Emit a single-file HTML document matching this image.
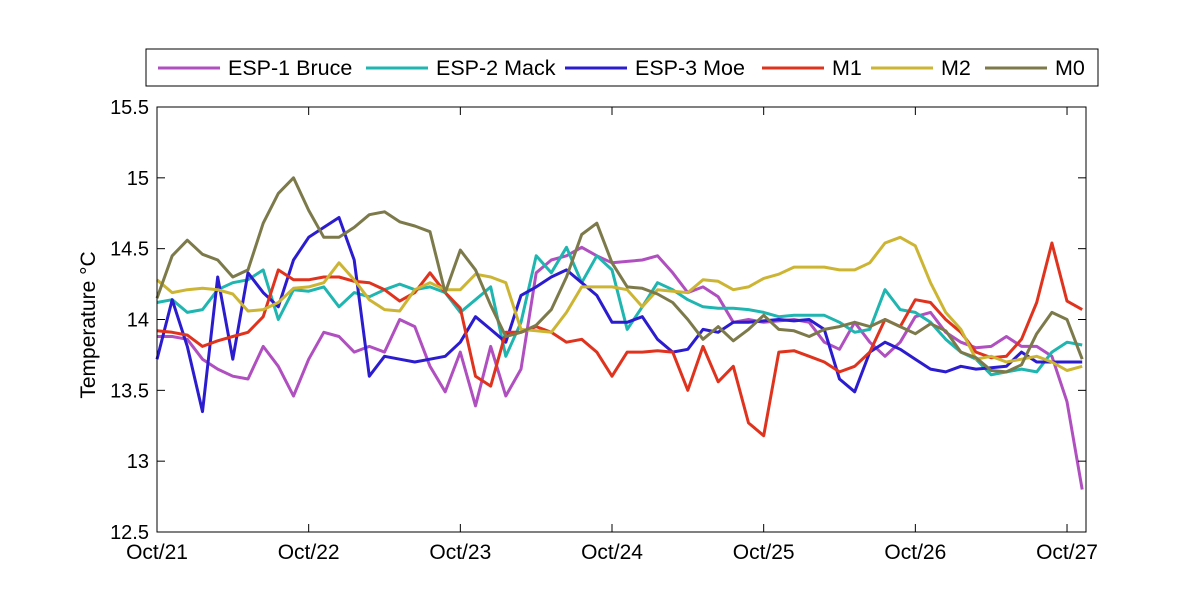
<!DOCTYPE html>
<html><head><meta charset="utf-8"><style>
body{margin:0;background:#fff;}
svg{display:block;font-family:"Liberation Sans",sans-serif;}
</style></head><body>
<svg id="chart" width="1200" height="600" xmlns="http://www.w3.org/2000/svg">
<rect width="1200" height="600" fill="#fff"/>
<g id="plot"></g>
<g id="axes"></g>
<g id="legend"></g>
</svg>
<script>
const days = [0,0.1,0.2,0.3,0.4,0.5,0.6,0.7,0.8,0.9,1.0,1.1,1.2,1.3,1.4,1.5,1.6,1.7,1.8,1.9,2.0,2.1,2.2,2.3,2.4,2.5,2.6,2.7,2.8,2.9,3.0,3.1,3.2,3.3,3.4,3.5,3.6,3.7,3.8,3.9,4.0,4.1,4.2,4.3,4.4,4.5,4.6,4.7,4.8,4.9,5.0,5.1,5.2,5.3,5.4,5.5,5.6,5.7,5.8,5.9,6.0,6.1];
const seriesNames = ["ESP-1 Bruce","ESP-2 Mack","ESP-3 Moe","M1","M2","M0"];
const esp1 = [13.88,13.88,13.86,13.72,13.65,13.6,13.58,13.81,13.67,13.46,13.72,13.91,13.88,13.77,13.81,13.77,14.0,13.95,13.67,13.49,13.77,13.39,13.81,13.46,13.65,14.33,14.42,14.45,14.51,14.45,14.4,14.41,14.42,14.45,14.33,14.19,14.23,14.16,13.98,14.0,13.98,13.99,14.0,13.98,13.84,13.79,13.98,13.84,13.74,13.84,14.02,14.05,13.91,13.84,13.8,13.81,13.88,13.81,13.81,13.74,13.42,12.8];
const esp2 = [14.12,14.14,14.05,14.07,14.21,14.26,14.28,14.35,14.0,14.21,14.2,14.23,14.09,14.19,14.16,14.21,14.25,14.21,14.23,14.19,14.05,14.14,14.23,13.74,13.98,14.45,14.33,14.51,14.26,14.45,14.35,13.93,14.09,14.26,14.21,14.14,14.09,14.08,14.08,14.07,14.05,14.02,14.03,14.03,14.03,13.98,13.91,13.93,14.21,14.07,14.05,13.98,13.86,13.77,13.72,13.61,13.63,13.65,13.63,13.77,13.84,13.82];
const esp3 = [13.72,14.14,13.81,13.35,14.3,13.72,14.33,14.19,14.09,14.42,14.58,14.65,14.72,14.42,13.6,13.74,13.72,13.7,13.72,13.74,13.84,14.02,13.93,13.84,14.17,14.23,14.3,14.35,14.26,14.17,13.98,13.98,14.02,13.86,13.77,13.79,13.93,13.91,13.98,13.98,13.99,14.0,13.99,14.0,13.93,13.58,13.49,13.77,13.84,13.79,13.72,13.65,13.63,13.67,13.65,13.66,13.67,13.77,13.7,13.7,13.7,13.7];
const m1 = [13.92,13.91,13.89,13.81,13.85,13.88,13.91,14.02,14.35,14.28,14.28,14.3,14.3,14.27,14.26,14.21,14.13,14.19,14.33,14.19,14.08,13.6,13.53,13.91,13.91,13.95,13.91,13.84,13.86,13.77,13.6,13.77,13.77,13.78,13.77,13.5,13.81,13.56,13.67,13.27,13.18,13.77,13.78,13.74,13.7,13.63,13.67,13.77,14.0,13.95,14.14,14.12,14.0,13.91,13.77,13.73,13.74,13.86,14.12,14.54,14.13,14.07];
const m2 = [14.28,14.19,14.21,14.22,14.21,14.18,14.06,14.07,14.12,14.22,14.23,14.26,14.4,14.28,14.14,14.07,14.06,14.21,14.26,14.21,14.21,14.32,14.3,14.26,13.93,13.92,13.91,14.05,14.23,14.23,14.23,14.21,14.09,14.21,14.2,14.19,14.28,14.27,14.21,14.23,14.29,14.32,14.37,14.37,14.37,14.35,14.35,14.4,14.54,14.58,14.52,14.26,14.05,13.93,13.72,13.74,13.7,13.72,13.74,13.7,13.64,13.67];
const m0 = [14.15,14.45,14.56,14.46,14.42,14.3,14.35,14.68,14.89,15.0,14.77,14.58,14.58,14.65,14.74,14.76,14.69,14.66,14.62,14.19,14.49,14.35,14.1,13.88,13.91,13.96,14.07,14.3,14.6,14.68,14.4,14.23,14.22,14.18,14.12,14.0,13.86,13.95,13.85,13.93,14.03,13.93,13.92,13.88,13.93,13.95,13.98,13.95,14.0,13.95,13.9,13.97,13.92,13.77,13.73,13.64,13.63,13.68,13.9,14.05,14.0,13.72];
const yTicks = [12.5,13,13.5,14,14.5,15,15.5];
const xTickDays = [0,1,2,3,4,5,6];
const xTickLabels = ["Oct/21","Oct/22","Oct/23","Oct/24","Oct/25","Oct/26","Oct/27"];

const colors = ["#b04fc0","#1fb5b0","#2b1ccf","#e0331e","#cdb534","#7c7a4a"];
const L=157,R=1086,T=107,B=532, X0=0, X1=(1086-157)/151.67, Y0=12.5, Y1=15.5;
const xs = d => L + (d - X0) / (X1 - X0) * (R - L);
const ys = v => B - (v - Y0) / (Y1 - Y0) * (B - T);
const NS="http://www.w3.org/2000/svg";
function mk(tag, attrs, parent){const e=document.createElementNS(NS,tag);for(const k in attrs)e.setAttribute(k,attrs[k]);parent.appendChild(e);return e;}
const plot=document.getElementById('plot'), axes=document.getElementById('axes'), legend=document.getElementById('legend');
const all=[esp1,esp2,esp3,m1,m2,m0];
const keys=["esp1-bruce","esp2-mack","esp3-moe","m1","m2","m0"];
all.forEach((s,i)=>{
  let d="";
  s.forEach((v,j)=>{ if(v==null) return; d+=(d?"L":"M")+xs(days[j]).toFixed(1)+","+ys(v).toFixed(1); });
  const p=mk('path',{d:d,fill:"none",stroke:colors[i],"stroke-width":3,"stroke-linejoin":"round"},plot);
  
  
});
const box=mk('rect',{x:L,y:T,width:R-L,height:B-T,fill:"none",stroke:"#000","stroke-width":1},axes);


yTicks.forEach(v=>{
  const y=ys(v);
  mk('line',{x1:L,x2:L+8,y1:y,y2:y,stroke:"#000"},axes);
  mk('line',{x1:R,x2:R-8,y1:y,y2:y,stroke:"#000"},axes);
  const t=mk('text',{x:L-8,y:y+7,"text-anchor":"end","font-size":20},axes);
  t.textContent=String(v);
  
  
});
xTickDays.forEach((d,i)=>{
  const x=xs(d);
  mk('line',{x1:x,x2:x,y1:B,y2:B-8,stroke:"#000"},axes);
  mk('line',{x1:x,x2:x,y1:T,y2:T+8,stroke:"#000"},axes);
  const t=mk('text',{x:x,y:B+27,"text-anchor":"middle","font-size":21},axes);
  t.textContent=xTickLabels[i];
  
  
});
const yt=mk('text',{x:0,y:0,"text-anchor":"middle","font-size":21,transform:"translate(95,325) rotate(-90)"},axes);
yt.textContent="Temperature °C";


const lb=mk('rect',{x:146,y:49,width:952,height:37,fill:"#fff",stroke:"#000"},legend);


const lx=[158,366,565,762,871,985];
seriesNames.forEach((n,i)=>{
  const g=mk('g',{},legend);
  
  
  mk('line',{x1:lx[i],x2:lx[i]+62,y1:68,y2:68,stroke:colors[i],"stroke-width":3},g);
  const t=mk('text',{x:lx[i]+70,y:75,"font-size":21.5},g);
  t.textContent=n;
});
</script>
</body></html>
